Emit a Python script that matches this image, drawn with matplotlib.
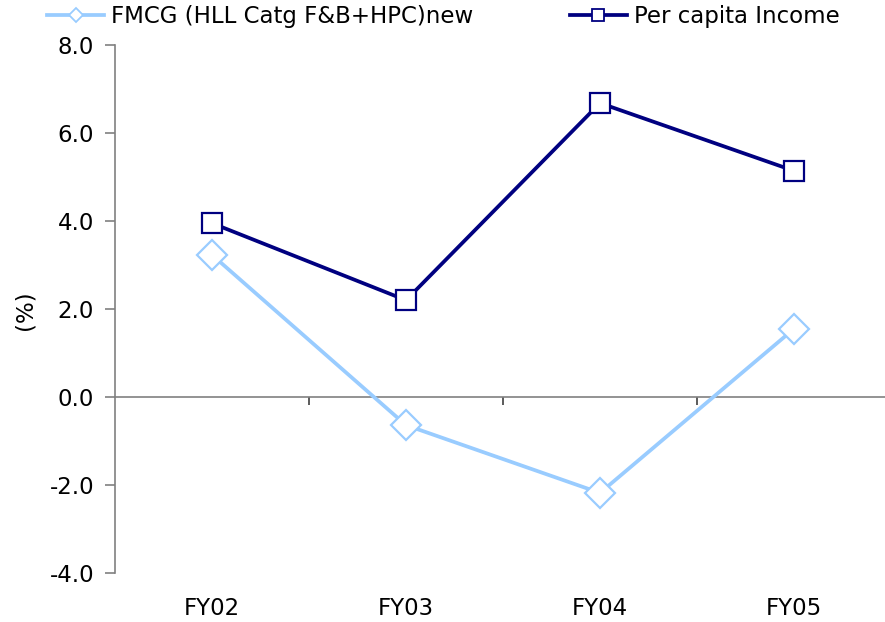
import matplotlib
matplotlib.use("Agg")
import matplotlib.pyplot as plt
from matplotlib.lines import Line2D
from matplotlib.transforms import blended_transform_factory

plt.rcParams['font.family'] = ['DejaVu Sans']

categories = ["FY02", "FY03", "FY04", "FY05"]
fmcg = [3.23, -0.64, -2.18, 1.55]
per_capita = [3.95, 2.2, 6.68, 5.14]
yticks = [-4.0, -2.0, 0.0, 2.0, 4.0, 6.0, 8.0]

light = "#99CCFF"
navy = "#000080"
grey = "#808080"
fs = 16.5

fig = plt.figure(figsize=(8.85, 6.22), dpi=100)
ax = fig.add_axes([115 / 885, 1 - 573 / 622, 776 / 885, 528 / 622])

x = list(range(len(categories)))
ax.plot(x, fmcg, color=light, lw=2.7, marker="D", ms=15, mfc="white",
        mec=light, mew=1.6, zorder=3, clip_on=False)
ax.plot(x, per_capita, color=navy, lw=2.7, marker="s", ms=14, mfc="white",
        mec=navy, mew=1.6, zorder=4, clip_on=False)

ax.set_xlim(-0.5, 3.5)
ax.set_ylim(-4, 8)

for s in ["top", "right"]:
    ax.spines[s].set_visible(False)
ax.spines["left"].set_color(grey)
ax.spines["bottom"].set_color(grey)
ax.spines["bottom"].set_position(("data", 0))
ax.spines["left"].set_linewidth(1.2)
ax.spines["bottom"].set_linewidth(1.2)

ax.set_yticks(yticks)
ax.set_yticklabels([f"{v:.1f}" for v in yticks], fontsize=fs)
ax.tick_params(axis="y", direction="out", length=7, width=1.2, color=grey, pad=8)

ax.set_xticks([0.5, 1.5, 2.5])
ax.set_xticklabels([])
ax.tick_params(axis="x", direction="out", length=6, width=1.2, color="#404040")

trans = blended_transform_factory(ax.transData, ax.transAxes)
for xi, lab in zip(x, categories):
    ax.text(xi, -0.068, lab, transform=trans, ha="center", va="center", fontsize=fs)

fig.text(25 / 885, 1 - 310 / 622, "(%)", rotation=90, ha="center", va="center", fontsize=fs)

handles = [
    Line2D([], [], color=light, lw=2.7, marker="D", ms=7, mfc="white", mec=light, mew=1.3),
    Line2D([], [], color=navy, lw=2.7, marker="s", ms=8, mfc="white", mec=navy, mew=1.3),
]
fig.legend(handles, ["FMCG (HLL Catg F&B+HPC)new", "Per capita Income"],
           loc="upper left", bbox_to_anchor=(47 / 885, 1 - 5 / 622), ncol=2,
           frameon=False, fontsize=fs, handlelength=2.5, handletextpad=0.3,
           columnspacing=4.2, borderpad=0, borderaxespad=0)

fig.savefig("out.png", dpi=100)
